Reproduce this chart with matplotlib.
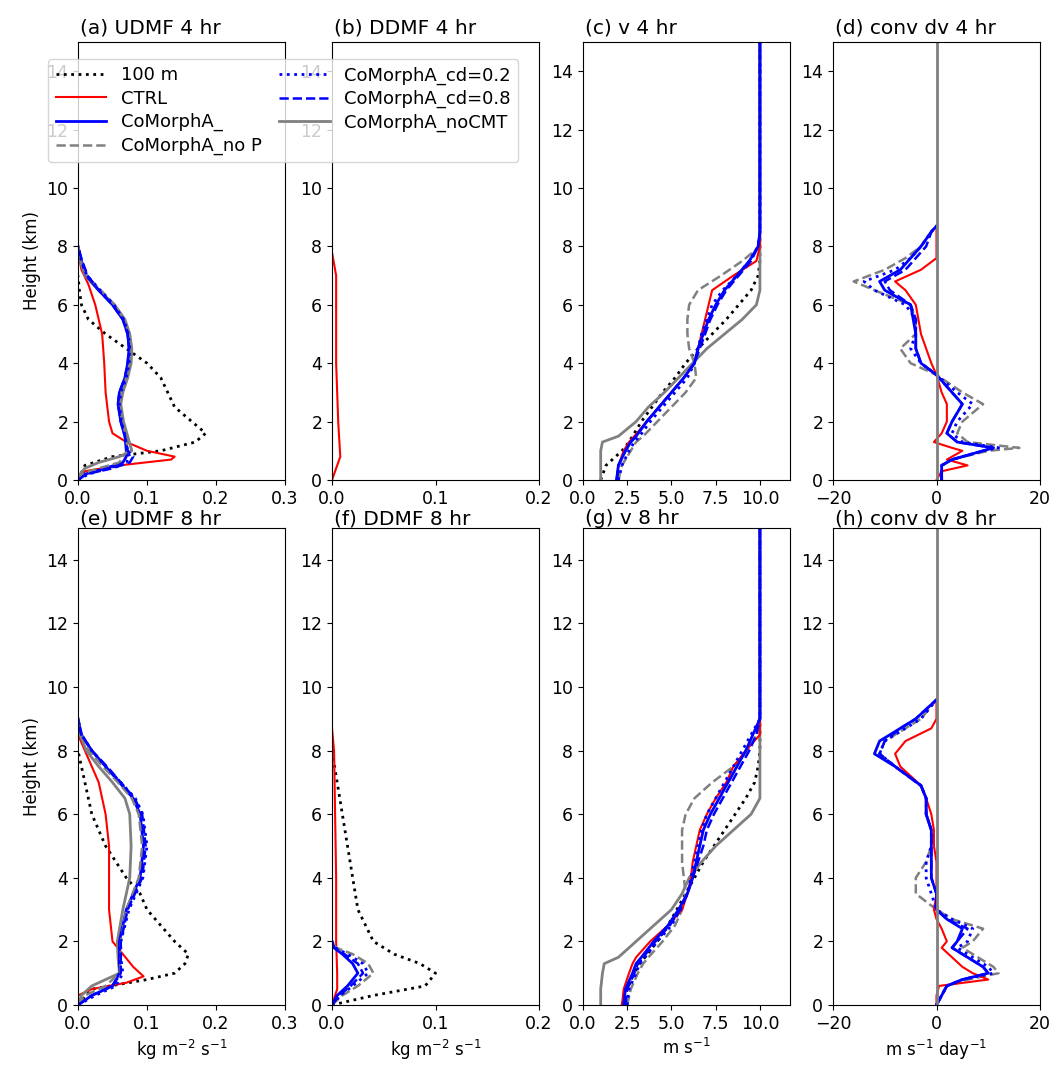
import numpy as np
import matplotlib.pyplot as plt

# ---------- data ----------
# (a) UDMF 4 hr
a_100m_z = [0, 0.5, 0.8, 1.0, 1.3, 1.6, 2.0, 2.5, 3.0, 3.5, 4.0, 4.5, 5.0, 5.5, 6.0, 6.5, 7.0]
a_100m_x = [0, 0.01, 0.05, 0.12, 0.17, 0.185, 0.165, 0.14, 0.13, 0.12, 0.1, 0.07, 0.04, 0.015, 0.005, 0.002, 0]
a_ctrl_z = [0, 0.3, 0.5, 0.7, 0.8, 1.0, 1.3, 1.6, 2.0, 3, 4, 5, 6, 6.7, 7.2, 7.8]
a_ctrl_x = [0, 0.01, 0.06, 0.135, 0.14, 0.1, 0.07, 0.05, 0.045, 0.04, 0.038, 0.035, 0.025, 0.015, 0.005, 0]
a_cm_z = [0, 0.2, 0.4, 0.6, 0.8, 1.0, 1.5, 2, 2.6, 3, 3.5, 4, 4.5, 5, 5.5, 6, 6.5, 7, 7.5, 8]
a_cm_x = [0, 0.01, 0.04, 0.065, 0.07, 0.07, 0.068, 0.062, 0.058, 0.06, 0.068, 0.072, 0.074, 0.072, 0.065, 0.05, 0.03, 0.012, 0.005, 0]
a_cd2_x = [0, 0.015, 0.045, 0.07, 0.075, 0.072, 0.068, 0.063, 0.06, 0.062, 0.07, 0.074, 0.075, 0.073, 0.066, 0.052, 0.032, 0.013, 0.005, 0]
a_cd8_x = [0, 0.012, 0.05, 0.075, 0.08, 0.072, 0.068, 0.062, 0.058, 0.06, 0.068, 0.072, 0.074, 0.072, 0.065, 0.05, 0.03, 0.014, 0.006, 0]
a_noP_x = [0, 0.005, 0.03, 0.06, 0.065, 0.072, 0.07, 0.064, 0.06, 0.063, 0.07, 0.075, 0.077, 0.074, 0.067, 0.053, 0.033, 0.012, 0.004, 0]
a_nocmt_x = [0, 0.003, 0.01, 0.03, 0.06, 0.078, 0.072, 0.066, 0.062, 0.065, 0.072, 0.077, 0.078, 0.075, 0.068, 0.053, 0.03, 0.01, 0.003, 0]

# (b) DDMF 4 hr
b_ctrl_z = [0, 0.8, 2, 4, 6, 7, 7.8]
b_ctrl_x = [0, 0.008, 0.006, 0.004, 0.004, 0.004, 0]

# (c) v 4 hr
c_z = [0, 0.5, 1, 1.3, 1.5, 2, 2.5, 3, 3.5, 4, 4.5, 5, 5.5, 6, 6.5, 7, 7.5, 8, 8.5, 9, 9.5, 15]
c_100m = [1.0, 1.3, 2.2, 2.6, 2.8, 3.3, 3.9, 4.5, 5.2, 5.8, 6.5, 7.3, 8.1, 8.8, 9.5, 9.9, 10, 10, 10, 10, 10, 10]
c_ctrl = [1.9, 2.0, 2.3, 2.6, 2.9, 3.6, 4.3, 5.0, 5.7, 6.3, 6.5, 6.7, 6.9, 7.1, 7.3, 8.5, 9.8, 10, 10, 10, 10, 10]
c_cm = [1.9, 2.0, 2.4, 2.7, 3.0, 3.6, 4.3, 5.0, 5.7, 6.3, 6.5, 6.8, 7.1, 7.5, 8.0, 8.7, 9.4, 9.9, 10, 10, 10, 10]
c_cd2 = [2.0, 2.2, 2.6, 2.9, 3.2, 3.8, 4.5, 5.2, 5.9, 6.3, 6.5, 6.7, 7.0, 7.3, 7.9, 8.7, 9.4, 9.9, 10, 10, 10, 10]
c_cd8 = [1.9, 2.0, 2.4, 2.7, 3.0, 3.6, 4.3, 5.0, 5.7, 6.3, 6.6, 6.9, 7.2, 7.6, 8.1, 8.8, 9.5, 9.9, 10, 10, 10, 10]
c_noP = [2.0, 2.2, 2.7, 3.0, 3.4, 4.2, 5.0, 5.8, 6.4, 6.3, 6.0, 5.9, 5.9, 6.0, 6.5, 7.8, 9.0, 10, 10, 10, 10, 10]
c_nocmt = [1.0, 1.0, 1.0, 1.1, 2.0, 3.0, 3.7, 4.6, 5.4, 6.2, 7.0, 8.0, 9.0, 9.8, 10, 10, 10, 10, 10, 10, 10, 10]

# (d) conv dv 4 hr
d_z = [0, 0.3, 0.5, 0.7, 1.0, 1.1, 1.3, 1.6, 2.0, 2.6, 3.0, 3.6, 4.0, 4.5, 5, 5.5, 6, 6.5, 6.8, 7.2, 7.6, 8, 8.5, 8.7]
d_ctrl = [0, 1, 6, 2, 5, 3, -0.5, 1, 2, 2, 1, 0, -1, -2, -3, -3.5, -4, -6, -8, -3, 0, 0, 0, 0]
d_cm = [1, 1, 1, 3, 9, 11, 4, 2, 3, 5, 3, 0, -3, -4, -4, -4.5, -5, -10, -11, -7, -5, -3, -1, 0]
d_cd2 = [1, 1, 1, 3, 9, 12, 5, 3, 4, 7, 4, 0, -3, -5, -4, -4, -6, -12, -14, -8, -5, -3, -1, 0]
d_cd8 = [1, 1, 1, 3, 9, 11, 4, 2, 3, 5, 3, 0, -3, -4, -4, -4, -5, -9, -10, -6, -4, -2, -1, 0]
d_noP = [1, 1, 1, 3, 10, 16, 6, 4, 5, 9, 5, 0, -5, -7, -4, -4, -5, -12, -16, -10, -6, -3, -1, 0]

# (e) UDMF 8 hr
e_100m_z = [0, 0.5, 0.8, 1.0, 1.3, 1.6, 2, 2.5, 3, 3.5, 4, 5, 6, 7, 8]
e_100m_x = [0, 0.02, 0.1, 0.14, 0.155, 0.16, 0.14, 0.12, 0.1, 0.09, 0.07, 0.04, 0.02, 0.01, 0]
e_ctrl_z = [0, 0.3, 0.5, 0.7, 0.9, 1.2, 2, 3, 4, 5, 6, 7, 7.5, 8, 8.5]
e_ctrl_x = [0, 0.0, 0.02, 0.07, 0.095, 0.08, 0.05, 0.045, 0.045, 0.045, 0.04, 0.03, 0.02, 0.01, 0]
e_cm_z = [0, 0.3, 0.6, 1, 1.5, 2, 3, 4, 5, 6, 6.5, 7, 7.5, 8, 8.5, 9]
e_cm_x = [0, 0.02, 0.05, 0.06, 0.06, 0.06, 0.07, 0.09, 0.095, 0.09, 0.08, 0.06, 0.04, 0.02, 0.005, 0]
e_cd2_x = [0, 0.025, 0.055, 0.065, 0.062, 0.062, 0.074, 0.094, 0.1, 0.094, 0.083, 0.062, 0.04, 0.02, 0.005, 0]
e_cd8_x = [0, 0.02, 0.05, 0.062, 0.062, 0.062, 0.072, 0.093, 0.098, 0.093, 0.082, 0.062, 0.042, 0.02, 0.005, 0]
e_noP_x = [0, 0.01, 0.04, 0.06, 0.062, 0.062, 0.07, 0.088, 0.093, 0.088, 0.078, 0.058, 0.036, 0.016, 0.004, 0]
e_nocmt_x = [0, 0.005, 0.02, 0.06, 0.058, 0.057, 0.065, 0.075, 0.077, 0.075, 0.068, 0.05, 0.03, 0.012, 0.003, 0]

# (f) DDMF 8 hr
f_100m_z = [0, 0.3, 0.6, 1.0, 1.3, 1.6, 2, 3, 4, 5, 6, 7, 8]
f_100m_x = [0, 0.04, 0.09, 0.1, 0.085, 0.06, 0.04, 0.025, 0.02, 0.015, 0.01, 0.005, 0]
f_ctrl_z = [0, 0.5, 1, 2, 4, 6, 8, 8.7]
f_ctrl_x = [0, 0.005, 0.005, 0.004, 0.004, 0.003, 0.002, 0]
f_cm_z = [0, 0.3, 0.6, 1.0, 1.3, 1.6, 1.8, 2.0]
f_cm_x = [0, 0.005, 0.015, 0.025, 0.02, 0.01, 0.002, 0]
f_cd2_x = [0, 0.008, 0.02, 0.035, 0.03, 0.015, 0.003, 0]
f_cd8_x = [0, 0.007, 0.018, 0.03, 0.025, 0.012, 0.002, 0]
f_noP_x = [0, 0.01, 0.025, 0.04, 0.035, 0.02, 0.004, 0]

# (g) v 8 hr
g_100m = [2.2, 2.5, 2.9, 3.2, 3.5, 4.2, 4.8, 5.3, 5.8, 6.3, 6.8, 7.4, 8.0, 8.6, 9.2, 9.7, 9.9, 10, 10, 10, 10, 10]
g_ctrl = [2.2, 2.3, 2.6, 2.8, 3.0, 3.8, 4.8, 5.6, 5.9, 6.1, 6.2, 6.4, 6.6, 7.0, 7.5, 8.1, 8.5, 9.2, 10, 10, 10, 10]
g_cm = [2.3, 2.4, 2.8, 3.0, 3.3, 4.0, 4.8, 5.4, 5.9, 6.2, 6.4, 6.6, 6.8, 7.2, 7.7, 8.2, 8.7, 9.2, 9.6, 10, 10, 10]
g_cd2 = [2.5, 2.6, 3.0, 3.2, 3.5, 4.2, 5.0, 5.5, 5.9, 6.1, 6.3, 6.5, 6.7, 7.0, 7.5, 8.0, 8.5, 9.0, 9.5, 10, 10, 10]
g_cd8 = [2.4, 2.5, 2.9, 3.1, 3.4, 4.1, 4.9, 5.5, 5.9, 6.2, 6.5, 6.8, 7.0, 7.4, 7.9, 8.4, 8.9, 9.4, 9.8, 10, 10, 10]
g_noP = [2.5, 2.7, 3.1, 3.4, 3.7, 4.5, 5.2, 5.6, 5.8, 5.7, 5.6, 5.6, 5.6, 5.8, 6.3, 7.3, 8.5, 9.3, 9.8, 10, 10, 10]
g_nocmt = [1.0, 1.0, 1.1, 1.2, 2.0, 3.0, 4.0, 5.0, 5.6, 6.0, 6.7, 7.5, 8.5, 9.5, 10, 10, 10, 10, 10, 10, 10, 10]

# (h) conv dv 8 hr
h_z = [0, 0.3, 0.6, 0.8, 1.0, 1.2, 1.5, 1.8, 2.0, 2.4, 2.7, 3.0, 3.5, 4, 4.5, 5, 5.5, 6, 6.5, 6.9, 7.5, 7.9, 8.3, 8.7, 9.0, 9.6]
h_ctrl = [0, 0, 0.5, 10, 7, 5, 3, 1, 2, 1, 0, -0.5, 0, 0, 0, -0.5, -0.5, -1, -2, -3, -7, -8, -6, -1, 0, 0]
h_cm = [0, 1, 2, 5, 10, 9, 6, 3, 4, 5, 2, 0, 0, -1, -1, -1, -1, -2, -2, -3, -8, -12, -11, -7, -4, 0]
h_cd2 = [0, 1, 2, 5, 11, 10, 7, 4, 6, 7, 3, 0, -1, -2, -2, -1, -1, -2, -2, -3, -8, -11, -10, -6, -3, 0]
h_cd8 = [0, 1, 2, 5, 10, 9, 6, 3, 4, 6, 2, 0, 0, -1, -1, -1, -1, -2, -2, -3, -8, -11, -10, -7, -4, 0]
h_noP = [0, 1, 2, 6, 12, 11, 8, 5, 7, 9, 3, 0, -4, -4, -2, -1, -1, -2, -2, -3, -8, -11, -10, -6, -3, 0]

zero_z = [0, 15]
zero_x = [0, 0]

labels = ['100 m', 'CTRL', 'CoMorphA_', 'CoMorphA_no P',
          'CoMorphA_cd=0.2', 'CoMorphA_cd=0.8', 'CoMorphA_noCMT']
styles = {
    '100 m': dict(color='k', ls=':', lw=2),
    'CTRL': dict(color='red', ls='-', lw=1.5),
    'CoMorphA_': dict(color='blue', ls='-', lw=2),
    'CoMorphA_no P': dict(color='gray', ls='--', lw=1.8),
    'CoMorphA_cd=0.2': dict(color='blue', ls=':', lw=2),
    'CoMorphA_cd=0.8': dict(color='blue', ls='--', lw=1.8),
    'CoMorphA_noCMT': dict(color='gray', ls='-', lw=2),
}

fig = plt.figure(figsize=(10.61, 10.67), dpi=100)
W, H = 1061, 1067
lefts = [78, 332, 583, 833]
width = 207
rows = [(42, 480), (528, 1005)]
axes = []
for top, bot in rows:
    r = []
    for l in lefts:
        r.append(fig.add_axes([l / W, 1 - bot / H, width / W, (bot - top) / H]))
    axes.append(r)


def draw(ax, name, x, z):
    ax.plot(x, z, label=name, **styles[name])


# row 1
ax = axes[0][0]
draw(ax, '100 m', a_100m_x, a_100m_z)
draw(ax, 'CTRL', a_ctrl_x, a_ctrl_z)
draw(ax, 'CoMorphA_noCMT', a_nocmt_x, a_cm_z)
draw(ax, 'CoMorphA_', a_cm_x, a_cm_z)
draw(ax, 'CoMorphA_no P', a_noP_x, a_cm_z)
draw(ax, 'CoMorphA_cd=0.2', a_cd2_x, a_cm_z)
draw(ax, 'CoMorphA_cd=0.8', a_cd8_x, a_cm_z)
ax = axes[0][1]
draw(ax, 'CTRL', b_ctrl_x, b_ctrl_z)
ax = axes[0][2]
for n, v in [('100 m', c_100m), ('CoMorphA_noCMT', c_nocmt), ('CoMorphA_no P', c_noP),
             ('CTRL', c_ctrl), ('CoMorphA_cd=0.2', c_cd2), ('CoMorphA_cd=0.8', c_cd8), ('CoMorphA_', c_cm)]:
    draw(ax, n, v, c_z)
ax = axes[0][3]
for n, v in [('CoMorphA_no P', d_noP), ('CTRL', d_ctrl), ('CoMorphA_cd=0.2', d_cd2),
             ('CoMorphA_cd=0.8', d_cd8), ('CoMorphA_', d_cm)]:
    draw(ax, n, v, d_z)
draw(ax, 'CoMorphA_noCMT', zero_x, zero_z)

# row 2
ax = axes[1][0]
draw(ax, '100 m', e_100m_x, e_100m_z)
draw(ax, 'CTRL', e_ctrl_x, e_ctrl_z)
draw(ax, 'CoMorphA_noCMT', e_nocmt_x, e_cm_z)
draw(ax, 'CoMorphA_', e_cm_x, e_cm_z)
draw(ax, 'CoMorphA_no P', e_noP_x, e_cm_z)
draw(ax, 'CoMorphA_cd=0.2', e_cd2_x, e_cm_z)
draw(ax, 'CoMorphA_cd=0.8', e_cd8_x, e_cm_z)
ax = axes[1][1]
draw(ax, '100 m', f_100m_x, f_100m_z)
draw(ax, 'CTRL', f_ctrl_x, f_ctrl_z)
draw(ax, 'CoMorphA_no P', f_noP_x, f_cm_z)
draw(ax, 'CoMorphA_cd=0.2', f_cd2_x, f_cm_z)
draw(ax, 'CoMorphA_cd=0.8', f_cd8_x, f_cm_z)
draw(ax, 'CoMorphA_', f_cm_x, f_cm_z)
ax = axes[1][2]
for n, v in [('100 m', g_100m), ('CoMorphA_noCMT', g_nocmt), ('CoMorphA_no P', g_noP),
             ('CTRL', g_ctrl), ('CoMorphA_cd=0.2', g_cd2), ('CoMorphA_cd=0.8', g_cd8), ('CoMorphA_', g_cm)]:
    draw(ax, n, v, c_z)
ax = axes[1][3]
for n, v in [('CoMorphA_no P', h_noP), ('CTRL', h_ctrl), ('CoMorphA_cd=0.2', h_cd2),
             ('CoMorphA_cd=0.8', h_cd8), ('CoMorphA_', h_cm)]:
    draw(ax, n, v, h_z)
draw(ax, 'CoMorphA_noCMT', zero_x, zero_z)

titles = [['(a) UDMF 4 hr', '(b) DDMF 4 hr', '(c) v 4 hr', '(d) conv dv 4 hr'],
          ['(e) UDMF 8 hr', '(f) DDMF 8 hr', '(g) v 8 hr', '(h) conv dv 8 hr']]
xlims = [(0, 0.3), (0, 0.2), (0, 11.7), (-20, 20)]
xticks = [[0, 0.1, 0.2, 0.3], [0, 0.1, 0.2], [0, 2.5, 5, 7.5, 10], [-20, 0, 20]]
xlabels = ['kg m$^{-2}$ s$^{-1}$', 'kg m$^{-2}$ s$^{-1}$', 'm s$^{-1}$', 'm s$^{-1}$ day$^{-1}$']
for i in range(2):
    for j in range(4):
        ax = axes[i][j]
        ax.set_ylim(0, 15)
        ax.set_yticks(range(0, 15, 2))
        ax.set_xlim(*xlims[j])
        ax.set_xticks(xticks[j])
        ax.tick_params(labelsize=12.5)
        ax.set_title(titles[i][j], loc='left', fontsize=14.5, pad=6 if i == 0 else 2, x=0.01)
        if j == 0:
            ax.set_ylabel('Height (km)', fontsize=12)
        if i == 1:
            ax.set_xlabel(xlabels[j], fontsize=12)
        ax.set_xticklabels([f'{t:.1f}' if j < 3 else f'{t:g}'.replace('-', '\u2212')
                            for t in xticks[j]])

handles = []
for n in labels:
    handles.append(plt.Line2D([], [], **styles[n]))
fig.legend(handles, labels, ncol=2, loc='upper left', bbox_to_anchor=(0.037, 0.953),
           fontsize=13, framealpha=0.8, columnspacing=1.0, handlelength=2.8,
           labelspacing=0.3)

fig.savefig('out.png', dpi=100)
